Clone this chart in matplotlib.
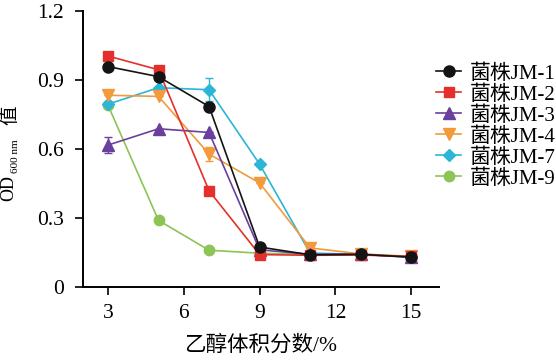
import matplotlib
matplotlib.use('Agg')
import matplotlib.pyplot as plt
import numpy as np

# ethanol volume fraction (%)
ethanol = [3, 5, 7, 9, 11, 13, 15]
strains = ['菌株JM-1', '菌株JM-2', '菌株JM-3', '菌株JM-4', '菌株JM-7', '菌株JM-9']
jm1 = [0.958, 0.914, 0.784, 0.172, 0.138, 0.140, 0.128]
jm2 = [1.004, 0.944, 0.417, 0.139, 0.136, 0.137, 0.131]
jm3 = [0.616, 0.687, 0.671, 0.160, 0.140, 0.140, 0.127]
jm4 = [0.833, 0.828, 0.577, 0.451, 0.168, 0.142, 0.131]
jm7 = [0.794, 0.866, 0.857, 0.533, 0.145, 0.141, 0.130]
jm9 = [0.790, 0.288, 0.158, 0.145, 0.140, 0.140, 0.130]
# standard deviations (only the visible ones are non-zero)
err1 = [0, 0, 0, 0, 0, 0, 0]
err2 = [0, 0, 0, 0, 0, 0, 0]
err3 = [0.035, 0, 0, 0, 0, 0, 0]
err4 = [0, 0, 0.03, 0, 0, 0, 0]
err7 = [0, 0, 0.05, 0, 0, 0, 0]
err9 = [0, 0, 0, 0, 0, 0, 0]

series = [jm1, jm2, jm3, jm4, jm7, jm9]
errs = [err1, err2, err3, err4, err7, err9]
colors = ['#141414', '#e3302c', '#6a3f9e', '#f29a3c', '#2bb5d6', '#8cc456']
markers = ['o', 's', '^', 'v', 'D', 'o']
msizes = [8, 7.5, 8, 8, 6.5, 7.5]

plt.rcParams['font.family'] = ['Liberation Serif', 'Noto Sans CJK SC']

W, H = 556, 361
fig = plt.figure(figsize=(W / 100, H / 100), dpi=100)
ax = fig.add_axes([82.7 / W, 1 - 286.5 / H, (439 - 82.7) / W, (286.5 - 11) / H])

handles = []
for ind in range(len(series)):
    eb = ax.errorbar(ethanol, series[ind], yerr=errs[ind], color=colors[ind],
                     marker=markers[ind], markersize=msizes[ind], linewidth=1.2,
                     elinewidth=1.0, capsize=3, zorder=10 - ind)
    handles.append(eb[0])

ax.set_xlim(2, 16.1)
ax.set_ylim(0, 1.2)
ax.set_xticks([3, 6, 9, 12, 15])
ax.set_yticks([0, 0.3, 0.6, 0.9, 1.2])
ax.set_yticklabels(['0', '0.3', '0.6', '0.9', '1.2'])
ax.spines['top'].set_visible(False)
ax.spines['right'].set_visible(False)
ax.spines['left'].set_linewidth(1.4)
ax.spines['bottom'].set_linewidth(1.4)
ax.tick_params(direction='out', length=5.5, width=1.2, labelsize=15.5)
ax.tick_params(axis='y', pad=8)
ax.tick_params(axis='x', pad=7)

ax.set_xlabel('乙醇体积分数/%', fontsize=15.5, labelpad=9)

# y label built from pieces: OD, subscript, 值
fig.text(9 / W, 1 - 188 / H, 'OD', rotation=90, fontsize=13,
         ha='center', va='center')
fig.text(15 / W, 1 - 156 / H, '600 nm', rotation=90, fontsize=8,
         ha='center', va='center')
fig.text(10 / W, 1 - 115 / H, '值', rotation=90, fontsize=14,
         ha='center', va='center')

ax.legend(handles, strains, loc='upper left', bbox_to_anchor=(436 / W, 1 - 64 / H),
          bbox_transform=fig.transFigure, frameon=False, fontsize=15,
          handlelength=1.2, handletextpad=0.4, labelspacing=0.07,
          borderaxespad=0, borderpad=0)

plt.savefig('out.png', dpi=100)
